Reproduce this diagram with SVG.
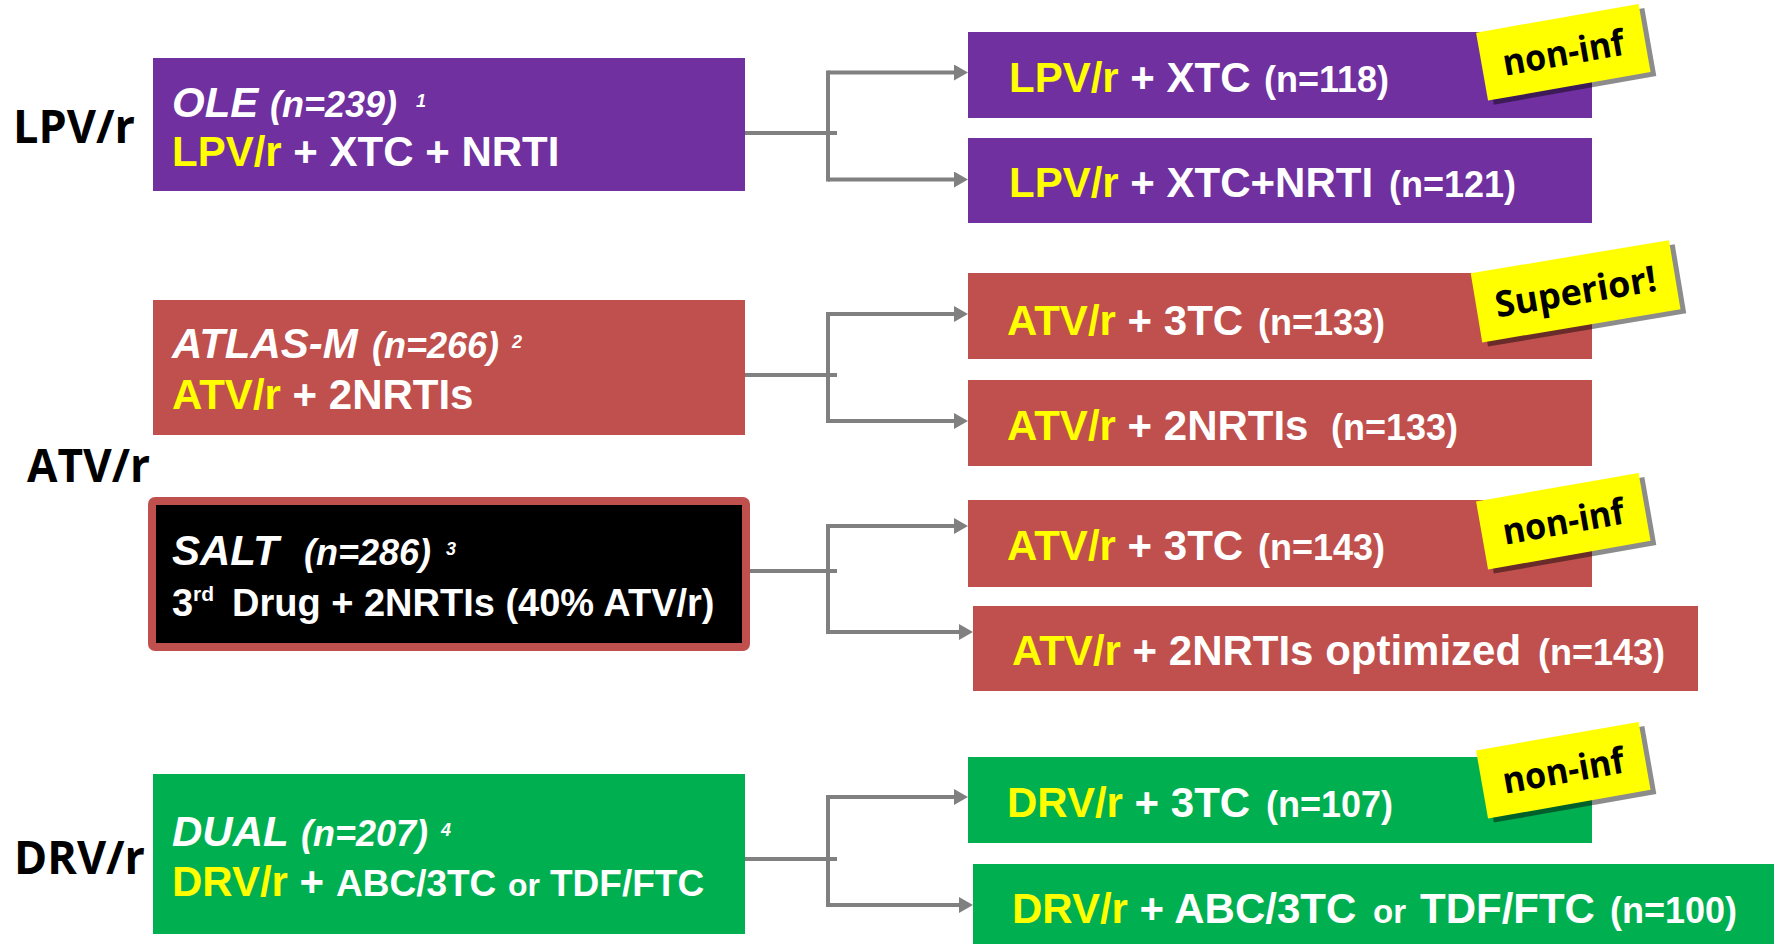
<svg xmlns="http://www.w3.org/2000/svg" width="1777" height="944" viewBox="0 0 1777 944">
<style>
  .t { font-family: "Liberation Sans", Arial, sans-serif; font-weight: bold; fill: #FFFFFF; }
  .i { font-style: italic; }
  .y { fill: #FFFF00; }
  .lbl { font-family: "Open Sans", "Liberation Sans", sans-serif; font-weight: bold; fill: #000000; font-size: 47px; }
  .stk { font-family: "Open Sans", "Liberation Sans", sans-serif; font-weight: bold; fill: #000000; font-size: 36px; }
  .pur { fill: #7030A0; }
  .red { fill: #C0504D; }
  .grn { fill: #00B050; }
  .conn { fill: none; stroke: #808080; stroke-width: 4; }
  .sticker { fill: #FFFF00; }
  .shadow { fill: #000000; fill-opacity: 0.45; }
</style>
<defs>
  <marker id="arr" markerUnits="userSpaceOnUse" markerWidth="16" markerHeight="16" refX="0" refY="8" orient="auto">
    <path d="M0,0 L14,8 L0,16 z" fill="#808080"/>
  </marker>
</defs>

<!-- left category labels -->
<g id="label-lpv"><text class="lbl" x="13" y="143" textLength="122" lengthAdjust="spacingAndGlyphs">LPV/r</text></g>
<g id="label-atv"><text class="lbl" x="27" y="482" textLength="123" lengthAdjust="spacingAndGlyphs">ATV/r</text></g>
<g id="label-drv"><text class="lbl" x="14" y="874" textLength="131" lengthAdjust="spacingAndGlyphs">DRV/r</text></g>

<!-- connectors -->
<g id="connectors">
  <path class="conn" d="M745 133 H837 M828 70.5 V181.5"/>
  <path class="conn" d="M828 72.5 H954" marker-end="url(#arr)"/>
  <path class="conn" d="M828 179.5 H954" marker-end="url(#arr)"/>

  <path class="conn" d="M745 375 H837 M828 312 V423"/>
  <path class="conn" d="M828 314 H954" marker-end="url(#arr)"/>
  <path class="conn" d="M828 421 H954" marker-end="url(#arr)"/>

  <path class="conn" d="M750 571 H837 M828 524 V634"/>
  <path class="conn" d="M828 526 H954" marker-end="url(#arr)"/>
  <path class="conn" d="M828 632 H959" marker-end="url(#arr)"/>

  <path class="conn" d="M745 859 H837 M828 795 V907"/>
  <path class="conn" d="M828 797 H954" marker-end="url(#arr)"/>
  <path class="conn" d="M828 905 H959" marker-end="url(#arr)"/>
</g>

<!-- LPV/r study -->
<g id="node-ole">
  <rect class="pur" x="153" y="58" width="592" height="133"/>
  <text class="t i" y="117"><tspan x="172" font-size="42">OLE</tspan><tspan x="270" font-size="36">(n=239)</tspan><tspan x="416" y="107" font-size="18">1</tspan></text>
  <text class="t" x="172" y="166" font-size="42"><tspan class="y">LPV/r</tspan> + XTC + NRTI</text>
</g>
<g id="node-lpv-xtc">
  <rect class="pur" x="968" y="32" width="624" height="86"/>
  <text class="t" y="92"><tspan x="1009" font-size="42"><tspan class="y">LPV/r</tspan> + XTC</tspan><tspan x="1264" font-size="36">(n=118)</tspan></text>
</g>
<g id="node-lpv-xtc-nrti">
  <rect class="pur" x="968" y="138" width="624" height="85"/>
  <text class="t" y="197"><tspan x="1009" font-size="42"><tspan class="y">LPV/r</tspan> + XTC+NRTI</tspan><tspan x="1389" font-size="36">(n=121)</tspan></text>
</g>

<!-- ATLAS-M -->
<g id="node-atlas">
  <rect class="red" x="153" y="300" width="592" height="135"/>
  <text class="t i" y="358"><tspan x="172" font-size="42">ATLAS-M</tspan><tspan x="372" font-size="36">(n=266)</tspan><tspan x="512" y="348" font-size="18">2</tspan></text>
  <text class="t" x="172" y="409" font-size="42"><tspan class="y">ATV/r</tspan> + 2NRTIs</text>
</g>
<g id="node-atlas-3tc">
  <rect class="red" x="968" y="273" width="624" height="86"/>
  <text class="t" y="335"><tspan x="1007" font-size="42"><tspan class="y">ATV/r</tspan> + 3TC</tspan><tspan x="1258" font-size="36">(n=133)</tspan></text>
</g>
<g id="node-atlas-2nrti">
  <rect class="red" x="968" y="380" width="624" height="86"/>
  <text class="t" y="440"><tspan x="1007" font-size="42"><tspan class="y">ATV/r</tspan> + 2NRTIs</tspan><tspan x="1331" font-size="36">(n=133)</tspan></text>
</g>

<!-- SALT -->
<g id="node-salt">
  <rect x="152" y="501" width="594" height="146" rx="3" fill="#000000" stroke="#C0504D" stroke-width="8"/>
  <text class="t i" y="565"><tspan x="172" font-size="42">SALT</tspan><tspan x="304" font-size="36">(n=286)</tspan><tspan x="446" y="555" font-size="18">3</tspan></text>
  <text class="t" y="616"><tspan x="172" font-size="38">3</tspan><tspan x="193" y="601" font-size="21">rd</tspan><tspan x="232" y="616" font-size="38">Drug + 2NRTIs (40% ATV/r)</tspan></text>
</g>
<g id="node-salt-3tc">
  <rect class="red" x="968" y="500" width="624" height="87"/>
  <text class="t" y="560"><tspan x="1007" font-size="42"><tspan class="y">ATV/r</tspan> + 3TC</tspan><tspan x="1258" font-size="36">(n=143)</tspan></text>
</g>
<g id="node-salt-opt">
  <rect class="red" x="973" y="606" width="725" height="85"/>
  <text class="t" y="665"><tspan x="1012" font-size="42"><tspan class="y">ATV/r</tspan> + 2NRTIs optimized</tspan><tspan x="1538" font-size="36">(n=143)</tspan></text>
</g>

<!-- DUAL -->
<g id="node-dual">
  <rect class="grn" x="153" y="774" width="592" height="160"/>
  <text class="t i" y="846"><tspan x="172" font-size="42">DUAL</tspan><tspan x="301" font-size="36">(n=207)</tspan><tspan x="441" y="836" font-size="18">4</tspan></text>
  <text class="t" y="896"><tspan x="172" font-size="42"><tspan class="y">DRV/r</tspan> +</tspan><tspan x="336" font-size="37">ABC/3TC</tspan><tspan x="508" font-size="32">or</tspan><tspan x="550" font-size="37">TDF/FTC</tspan></text>
</g>
<g id="node-dual-3tc">
  <rect class="grn" x="968" y="757" width="624" height="86"/>
  <text class="t" y="817"><tspan x="1007" font-size="42"><tspan class="y">DRV/r</tspan> + 3TC</tspan><tspan x="1266" font-size="36">(n=107)</tspan></text>
</g>
<g id="node-dual-2nrti">
  <rect class="grn" x="973" y="864" width="801" height="80"/>
  <text class="t" y="923"><tspan x="1012" font-size="42"><tspan class="y">DRV/r</tspan> + ABC/3TC</tspan><tspan x="1373" font-size="33">or</tspan><tspan x="1420" font-size="42">TDF/FTC</tspan><tspan x="1610" font-size="36">(n=100)</tspan></text>
</g>

<!-- result stickers -->
<g id="sticker-ole" transform="translate(1563.3 52.3) rotate(-10)">
  <rect class="shadow" x="-77.5" y="-29.5" width="165" height="69"/>
  <rect class="sticker" x="-82.5" y="-34.5" width="165" height="69"/>
  <text class="stk" x="0" y="13" text-anchor="middle" textLength="123" lengthAdjust="spacingAndGlyphs">non-inf</text>
</g>
<g id="sticker-atlas" transform="translate(1575.6 291.3) rotate(-9.5)">
  <rect class="shadow" x="-95.5" y="-30" width="201" height="70"/>
  <rect class="sticker" x="-100.5" y="-35" width="201" height="70"/>
  <text class="stk" x="0" y="13" text-anchor="middle" textLength="163" lengthAdjust="spacingAndGlyphs">Superior!</text>
</g>
<g id="sticker-salt" transform="translate(1563.3 521.2) rotate(-10)">
  <rect class="shadow" x="-77.5" y="-29.5" width="165" height="69"/>
  <rect class="sticker" x="-82.5" y="-34.5" width="165" height="69"/>
  <text class="stk" x="0" y="13" text-anchor="middle" textLength="123" lengthAdjust="spacingAndGlyphs">non-inf</text>
</g>
<g id="sticker-dual" transform="translate(1563.3 770.2) rotate(-10)">
  <rect class="shadow" x="-77.5" y="-29.5" width="165" height="69"/>
  <rect class="sticker" x="-82.5" y="-34.5" width="165" height="69"/>
  <text class="stk" x="0" y="13" text-anchor="middle" textLength="123" lengthAdjust="spacingAndGlyphs">non-inf</text>
</g>
</svg>
